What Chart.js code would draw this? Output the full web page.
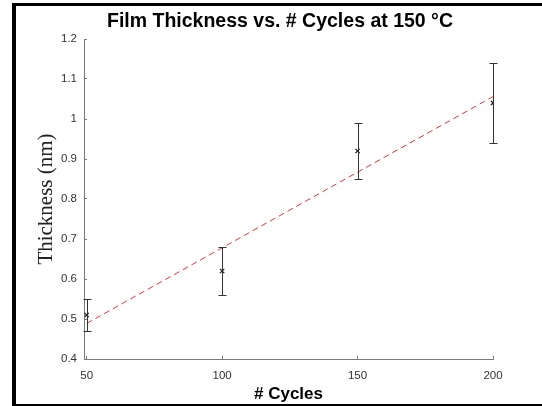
<!DOCTYPE html>
<html>
<head>
<meta charset="utf-8">
<script src="https://cdn.jsdelivr.net/npm/chart.js@4.4.0/dist/chart.umd.min.js"></script>
<style>
  html, body { margin: 0; padding: 0; background: #fff; }
  canvas { display: block; }
</style>
</head>
<body>
<canvas id="thicknessChart" width="542" height="406"></canvas>
<script>
// --- Datos ---
const cycles = [50, 100, 150, 200];
const thickness = [0.51, 0.62, 0.92, 1.04];
const errLow = [0.47, 0.56, 0.85, 0.94];
const errHigh = [0.55, 0.68, 0.99, 1.14];

// Recta de ajuste (extremos)
const fitX = [50, 200];
const fitY = [0.489, 1.056];

// Ticks
const xTicks = [50, 100, 150, 200];
const yTicks = [0.4, 0.5, 0.6, 0.7, 0.8, 0.9, 1.0, 1.1, 1.2];

// --- Colores ---
const axisColor = "#7a7a7a";
const tickTextColor = "#333333";
const fitColor = "#e5333b";
const markColor = "#222222";

// Fondo blanco + marco negro de la imagen + título
const framePlugin = {
  id: "frame",
  beforeDraw(chart) {
    const ctx = chart.ctx;
    ctx.save();
    ctx.fillStyle = "#fff";
    ctx.fillRect(0, 0, chart.width, chart.height);
    ctx.restore();
  },
  afterDraw(chart) {
    const ctx = chart.ctx;
    ctx.save();
    ctx.fillStyle = "#000";
    ctx.fillRect(12, 3, chart.width - 12, 3); // arriba
    ctx.fillRect(12, 3, 4, chart.height - 3); // izquierda
    ctx.fillRect(12, 404, chart.width - 12, 2); // abajo
    // Título
    ctx.font = "bold 19.5px 'Liberation Sans', Arial, sans-serif";
    ctx.textAlign = "center";
    ctx.textBaseline = "middle";
    ctx.fillStyle = "#000";
    ctx.fillText("Film Thickness vs. # Cycles at 150 \u00B0C", 280, 22);
    ctx.restore();
  },
};

// Barras de error dibujadas con las escalas del gráfico
const errorBarPlugin = {
  id: "errorBars",
  afterDatasetsDraw(chart) {
    const ctx = chart.ctx;
    const xs = chart.scales.x;
    const ys = chart.scales.y;
    ctx.save();
    ctx.strokeStyle = "#333";
    ctx.lineWidth = 1;
    cycles.forEach((c, i) => {
      const x = Math.round(xs.getPixelForValue(c)) + 0.5;
      const yl = Math.round(ys.getPixelForValue(errLow[i])) + 0.5;
      const yh = Math.round(ys.getPixelForValue(errHigh[i])) + 0.5;
      ctx.beginPath();
      ctx.moveTo(x, yl);
      ctx.lineTo(x, yh);
      ctx.moveTo(x - 4, yl);
      ctx.lineTo(x + 4, yl);
      ctx.moveTo(x - 4, yh);
      ctx.lineTo(x + 4, yh);
      ctx.stroke();
    });
    ctx.restore();
  },
};

const ctx = document.getElementById("thicknessChart").getContext("2d");

new Chart(ctx, {
  type: "scatter",
  data: {
    datasets: [
      {
        label: "Medidas",
        data: cycles.map((c, i) => ({ x: c, y: thickness[i] })),
        pointStyle: "crossRot",
        pointRadius: 3,
        borderColor: markColor,
        borderWidth: 1.3,
        order: 1,
      },
      {
        label: "Ajuste",
        type: "line",
        data: fitX.map((x, i) => ({ x: x, y: fitY[i] })),
        borderColor: fitColor,
        borderWidth: 1,
        borderDash: [6, 4],
        pointRadius: 0,
        fill: false,
        order: 2,
      },
    ],
  },
  options: {
    responsive: false,
    animation: false,
    devicePixelRatio: 1,
    layout: { padding: { top: 39, right: 49, bottom: 0, left: 0 } },
    plugins: {
      legend: { display: false },
      title: { display: false },
      tooltip: { enabled: false },
    },
    scales: {
      x: {
        type: "linear",
        min: 49,
        max: 200,
        afterBuildTicks: (scale) => {
          scale.ticks = xTicks.map((v) => ({ value: v }));
        },
        afterFit: (scale) => {
          scale.height = 47;
        },
        border: { display: true, color: axisColor, width: 1 },
        grid: {
          drawOnChartArea: false,
          drawTicks: true,
          tickLength: -3,
          color: axisColor,
        },
        ticks: {
          padding: 13,
          color: tickTextColor,
          font: { family: "'Liberation Sans', Arial, sans-serif", size: 11.5 },
          maxRotation: 0,
          callback: (v) => String(v),
        },
        title: {
          display: true,
          text: "# Cycles",
          color: "#000",
          font: { family: "'Liberation Sans', Arial, sans-serif", size: 17, weight: "bold" },
          padding: { top: 0, bottom: 1 },
        },
      },
      y: {
        type: "linear",
        min: 0.4,
        max: 1.2,
        afterBuildTicks: (scale) => {
          scale.ticks = yTicks.map((v) => ({ value: v }));
        },
        afterFit: (scale) => {
          scale.width = 84;
        },
        border: { display: true, color: axisColor, width: 1 },
        grid: {
          drawOnChartArea: false,
          drawTicks: true,
          tickLength: -3,
          color: axisColor,
        },
        ticks: {
          padding: 10,
          color: tickTextColor,
          font: { family: "'Liberation Sans', Arial, sans-serif", size: 11.5 },
          callback: (v) => String(Math.round(v * 10) / 10),
        },
        title: {
          display: true,
          text: "Thickness (nm)",
          color: "#222",
          font: { family: "'Liberation Serif', 'DejaVu Serif', serif", size: 21 },
          padding: { top: 34, bottom: 0 },
        },
      },
    },
  },
  plugins: [framePlugin, errorBarPlugin],
});
</script>
</body>
</html>
